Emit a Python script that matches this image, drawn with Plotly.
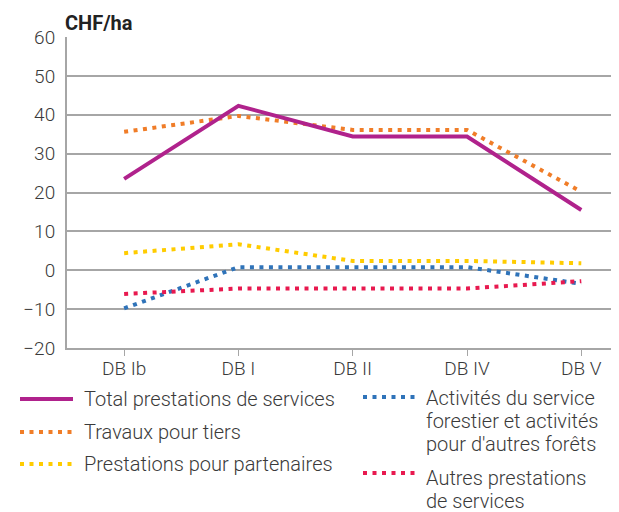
import plotly.graph_objects as go

categories = ["DB Ib", "DB I", "DB II", "DB IV", "DB V"]

total = [23.5, 42.3, 34.4, 34.4, 15.5]
travaux = [35.6, 39.7, 36.1, 36.1, 20.2]
partenaires = [4.4, 6.7, 2.4, 2.4, 1.8]
activites = [-9.8, 0.8, 0.8, 0.8, -3.5]
autres = [-6.1, -4.7, -4.7, -4.7, -2.8]

y_ticks = [-20, -10, 0, 10, 20, 30, 40, 50, 60]

series_names = [
    ["Total prestations de services"],
    ["Travaux pour tiers"],
    ["Prestations pour partenaires"],
    ["Activités du service", "forestier et activités", "pour d'autres forêts"],
    ["Autres prestations", "de services"],
]
series_values = [total, travaux, partenaires, activites, autres]
colors = ["#b0228c", "#f07d28", "#ffcc00", "#2f73b9", "#e8194f"]
dashes = ["solid", "4px,5.5px", "4px,5.5px", "4px,5.5px", "4px,5.5px"]

OFF = 8  # page body margin
W, H = 619 - OFF, 512 - OFF
# plot area in reference (window) pixels
L_ref, T_ref, B_ref, R_ref = 67, 37, 348, 619
L, T, B_px, R_px = L_ref - OFF, T_ref - OFF, B_ref - OFF, R_ref - OFF
pw, ph = R_px - L, B_px - T

FONT = "Roboto"
TXT = "#3a3a3a"


def px_x(p):
    return (p - OFF - L) / pw


def px_y(p):
    return (B_px - (p - OFF)) / ph


fig = go.Figure()
order = [1, 2, 3, 4, 0]
for i in order:
    fig.add_trace(go.Scatter(
        x=categories, y=series_values[i], mode="lines",
        line=dict(color=colors[i], width=4, dash=dashes[i]),
        showlegend=False, hoverinfo="skip",
    ))

# manual legend (reference window pixel positions)
LINE_STEP = 23
legend_pos = [
    (20, 73, 399, 83, 399),
    (20, 73, 432, 83, 432),
    (20, 73, 464, 83, 464),
    (363, 415, 397, 425, 398),
    (363, 415, 473, 425, 478),
]
shapes = []
annotations = []
for i, (x0, x1, ys, xt, yt) in enumerate(legend_pos):
    shapes.append(dict(
        type="line", xref="paper", yref="paper",
        x0=px_x(x0), x1=px_x(x1), y0=px_y(ys), y1=px_y(ys),
        line=dict(color=colors[i], width=4, dash=dashes[i]),
    ))
    for k, line_txt in enumerate(series_names[i]):
        annotations.append(dict(
            xref="paper", yref="paper", x=px_x(xt), y=px_y(yt + k * LINE_STEP),
            xanchor="left", yanchor="middle", align="left", showarrow=False,
            text=line_txt,
            font=dict(family=FONT, size=20, color=TXT, weight=300),
            borderpad=0,
        ))

annotations.append(dict(
    xref="paper", yref="paper", x=px_x(64), y=px_y(23),
    xanchor="left", yanchor="middle", showarrow=False,
    text="<b>CHF/ha</b>",
    font=dict(family=FONT, size=20, color="#222222"),
    borderpad=0,
))

fig.update_layout(
    width=W, height=H,
    margin=dict(l=L, r=W - R_px, t=T, b=H - B_px, pad=0),
    paper_bgcolor="white", plot_bgcolor="white",
    font=dict(family=FONT, size=19, color=TXT, weight=300),
    xaxis=dict(
        type="category", range=[-0.5, 4.33],
        showgrid=False, showline=True, linecolor="#a6a6a6", linewidth=2,
        ticks="outside", ticklen=6, tickwidth=1, tickcolor="#a6a6a6",
        tickfont=dict(family=FONT, size=19, color=TXT, weight=300),
        ticklabelstandoff=-4,
        zeroline=False, fixedrange=True,
    ),
    yaxis=dict(
        range=[-20, 60], tickvals=y_ticks,
        showgrid=True, gridcolor="#a6a6a6", gridwidth=1.5,
        showline=True, linecolor="#a6a6a6", linewidth=2,
        zeroline=False, ticks="", ticklabelstandoff=6,
        tickfont=dict(family=FONT, size=19, color=TXT, weight=300),
        fixedrange=True,
    ),
    shapes=shapes,
    annotations=annotations,
    showlegend=False,
)

fig.write_html("out.html")
